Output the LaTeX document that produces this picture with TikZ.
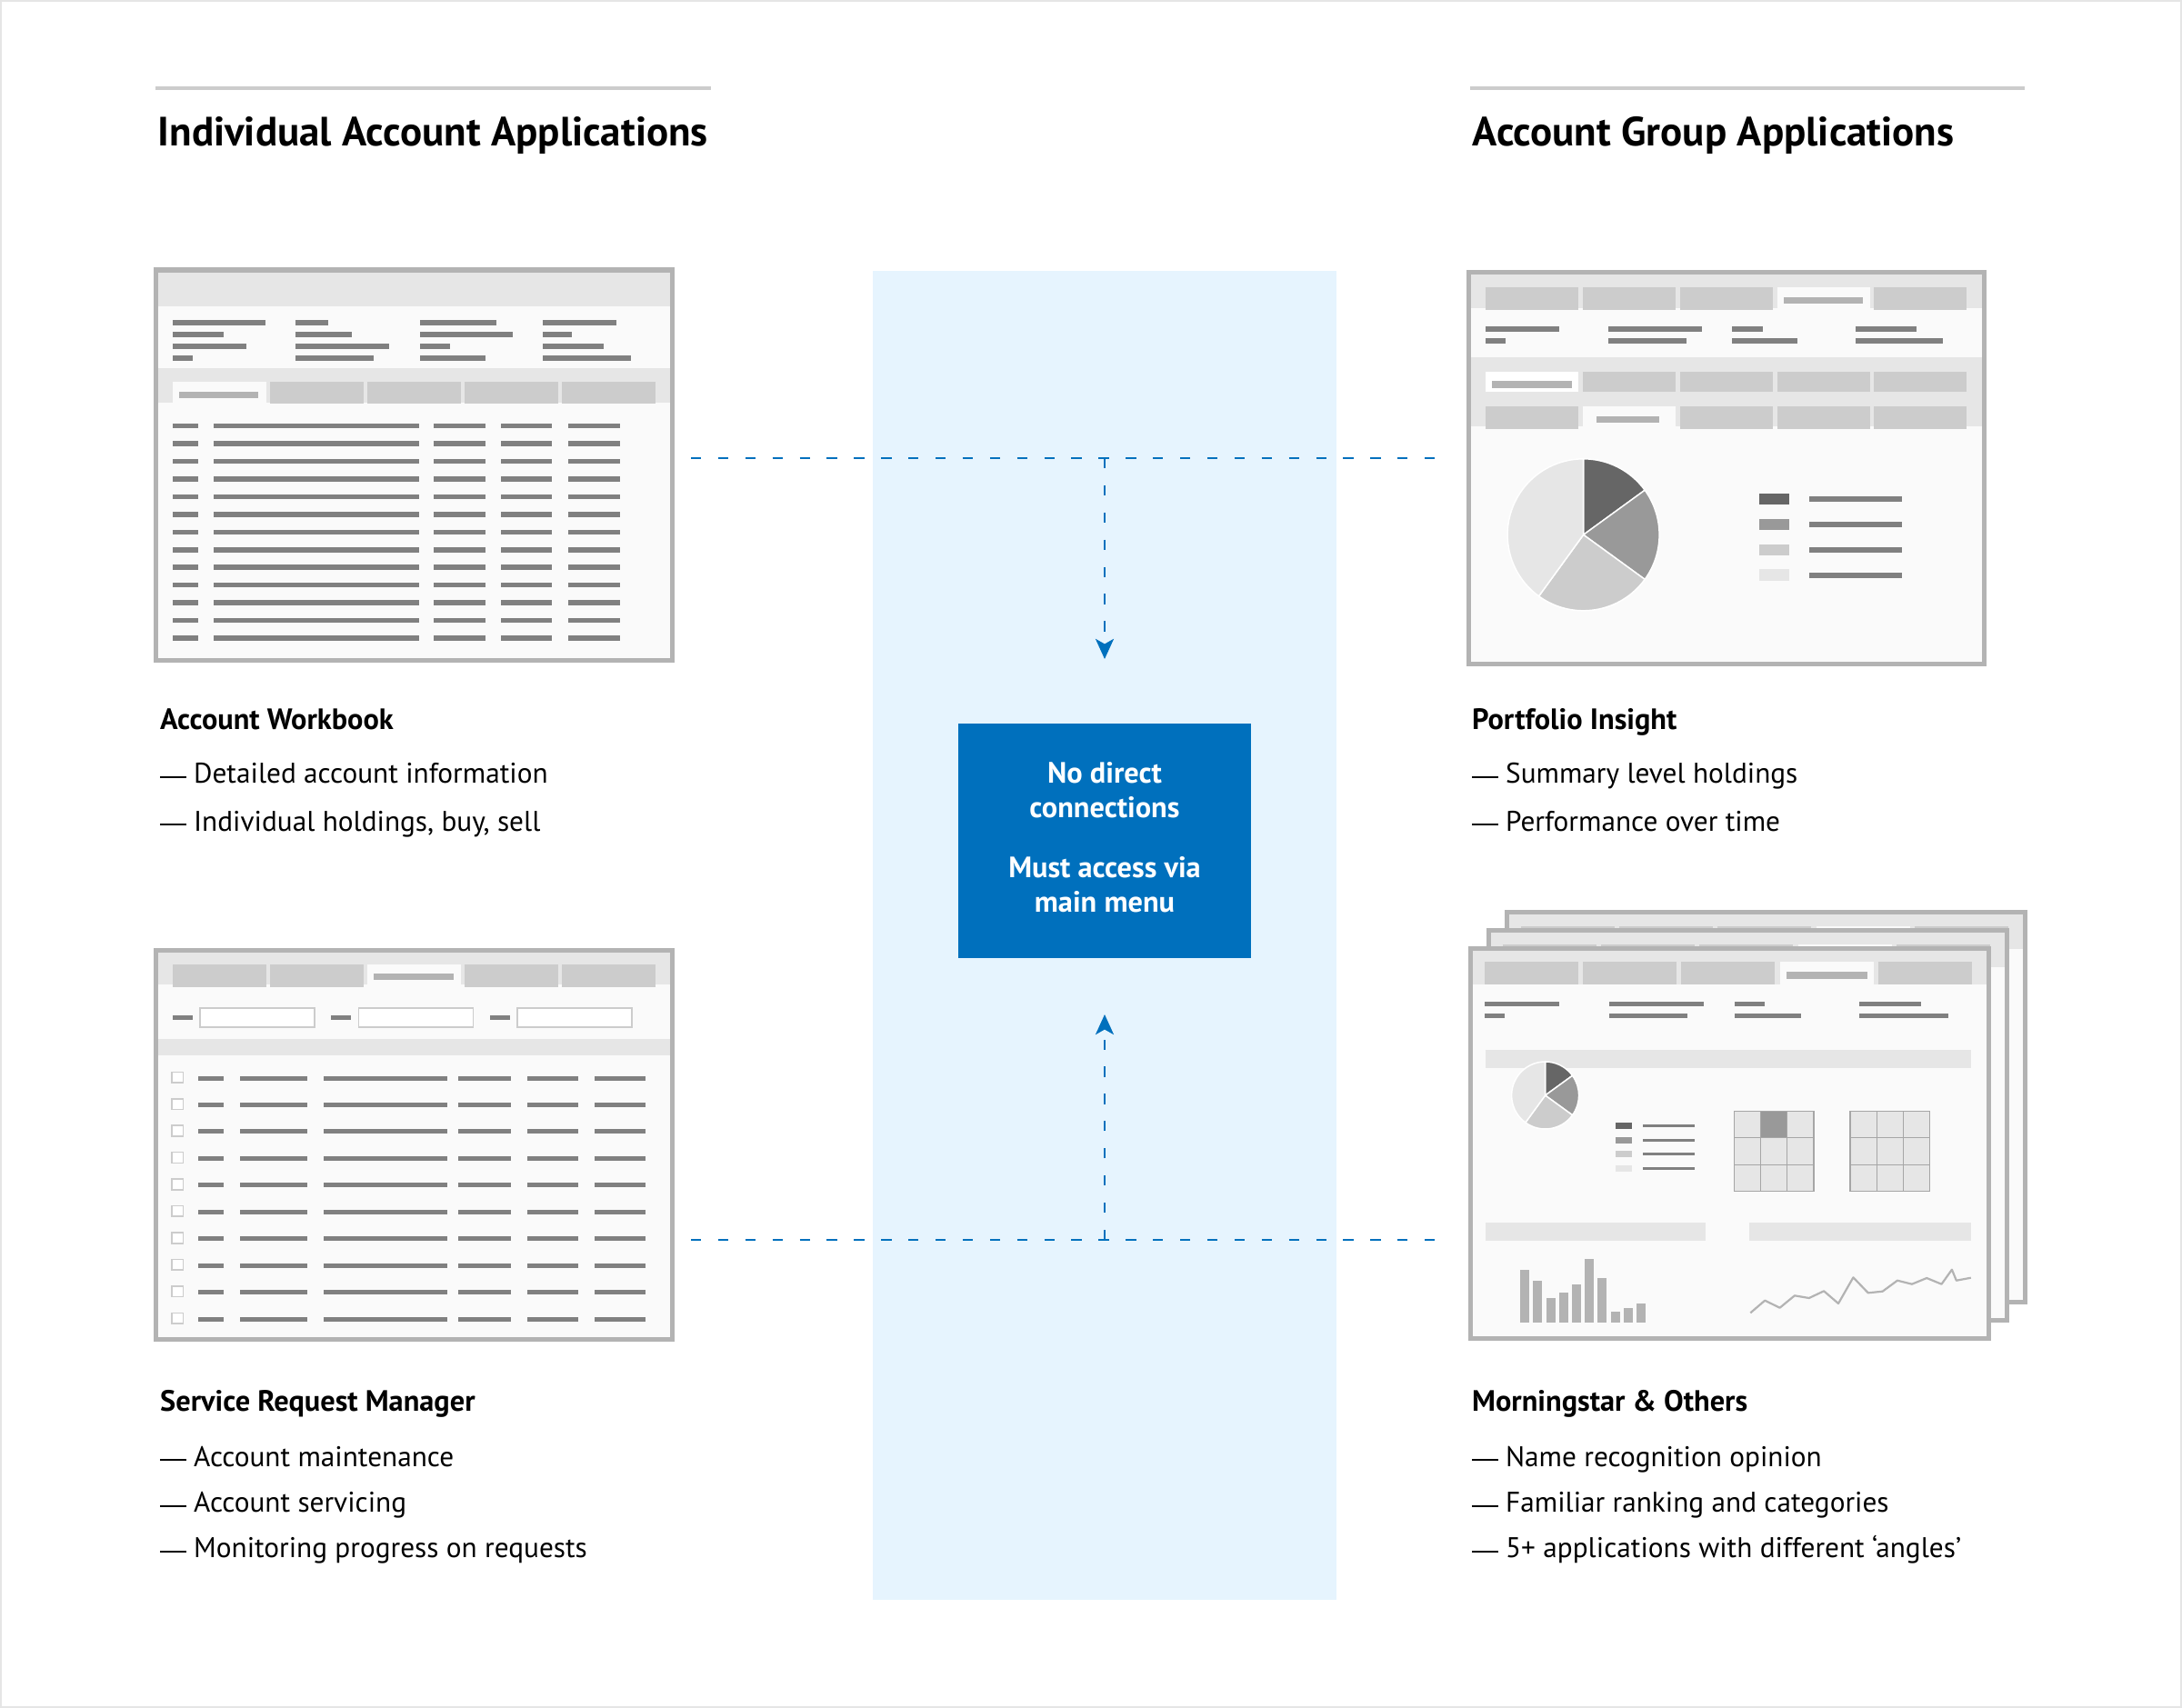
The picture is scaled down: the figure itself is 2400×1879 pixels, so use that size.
\documentclass[tikz,border=0pt]{standalone}
\usepackage{fontspec}
\setmainfont{PT Sans}
\usetikzlibrary{arrows.meta}
\definecolor{frm}{HTML}{B3B3B3}
\definecolor{bandc}{HTML}{E6E6E6}
\definecolor{tabc}{HTML}{CCCCCC}
\definecolor{txtl}{HTML}{808080}
\definecolor{bodyc}{HTML}{FAFAFA}
\definecolor{colbg}{HTML}{E6F4FE}
\definecolor{boxc}{HTML}{0070BD}
\definecolor{dashc}{HTML}{0070BD}
\definecolor{pieA}{HTML}{666666}
\definecolor{pieB}{HTML}{999999}
\definecolor{pieC}{HTML}{CCCCCC}
\definecolor{pieD}{HTML}{E6E6E6}
\definecolor{hline}{HTML}{CCCCCC}
\definecolor{gridc}{HTML}{A6A6A6}
\definecolor{pageb}{HTML}{E5E5E5}
\newdimen\pxu \pxu=0.2845276pt
\newcommand\emd{\rule[1.7pt]{8.1pt}{0.55pt}\hspace{2.4pt}}
\newcommand\gln[5][txtl]{\fill[#1] ({#2},{#3-(#5)/2}) rectangle ({#2+#4},{#3+(#5)/2});}
\newcommand\piechart[3]{%
  \filldraw[fill=pieA,draw=white,line width=1.5\pxu] (#1,#2) -- ++(-90:#3) arc[start angle=-90,end angle=-36,radius=#3] -- cycle;
  \filldraw[fill=pieB,draw=white,line width=1.5\pxu] (#1,#2) -- ++(-36:#3) arc[start angle=-36,end angle=36,radius=#3] -- cycle;
  \filldraw[fill=pieC,draw=white,line width=1.5\pxu] (#1,#2) -- ++(36:#3) arc[start angle=36,end angle=126,radius=#3] -- cycle;
  \filldraw[fill=pieD,draw=white,line width=1.5\pxu] (#1,#2) -- ++(126:#3) arc[start angle=126,end angle=270,radius=#3] -- cycle;
}
\newcommand\gridbox[5]{% x y w h highlight(0/1)
  \fill[bandc] (#1,#2) rectangle ++(#3,#4);
  \ifnum#5=1 \fill[pieB] ({#1+(#3)/3},#2) rectangle ++({(#3)/3},{(#4)/3});\fi
  \foreach \k in {0,1,2,3}{%
    \draw[gridc,line width=1.4\pxu] ({#1+\k*(#3)/3},#2) -- ++(0,#4);
    \draw[gridc,line width=1.4\pxu] (#1,{#2+\k*(#4)/3}) -- ++(#3,0);}
}
\newcommand\msscr{%
  \fill[bodyc] (0,0) rectangle (570.4,429);
  \fill[bandc] (0,0) rectangle (570.4,39.8);
  \foreach \x in {16,124.2,232.4,448.8} \fill[tabc] (\x,14.8) rectangle ++(103,25);
  \fill[bodyc] (340.6,14.8) rectangle ++(103,25.5);
  \gln[frm]{348.3}{29.5}{88.2}{7.4}
  \foreach \x/\y/\l in {16/61.2/82, 16/74.2/22.4, 152.8/61.2/104, 152.8/74.2/86.5, 290.8/61.2/33.5, 290.8/74.2/72.7, 427.9/61.2/67.8, 427.9/74.2/97.6} {\gln{\x}{\y}{\l}{5.3}}
  \fill[bandc] (16.9,111.5) rectangle (551.2,131.5);
  \piechart{82.6}{161.5}{37}
  \foreach \y/\c in {195.2/pieA, 210.8/pieB, 226.2/pieC, 241.8/pieD} {\gln[\c]{159.7}{\y}{18.4}{6.7}\gln{190}{\y}{57}{3.2}}
  \gridbox{290.3}{178.8}{87.7}{88.4}{1}
  \gridbox{418}{178.8}{87.7}{88.4}{0}
  \fill[bandc] (16.9,301.8) rectangle (259,321.5);
  \fill[bandc] (307,301.8) rectangle (551.2,321.5);
  \foreach \i/\t in {0/353.2, 1/365.2, 2/384.8, 3/378.8, 4/369.2, 5/341.8, 6/362.2, 7/399.5, 8/395.5, 9/390.5} \fill[frm] ({55.2+14.2*\i},\t) rectangle ++(10,{411.5-\t});
  \draw[frm,line width=2.2\pxu,line join=round] (308.3,400.8) -- (324.2,387.2) -- (340.6,395.2) -- (356.9,381.8) -- (372.8,384.5) -- (389.1,376.8) -- (405,390.5) -- (421.4,361.8) -- (437.7,378.8) -- (453.6,377.2) -- (469.9,365.2) -- (485.9,369.2) -- (502.2,362.5) -- (518.5,369.2) -- (529.9,353.2) -- (534.8,365.2) -- (550.8,362.2);
  \draw[frm,line width=5\pxu] (0,0) rectangle (570.4,429);
}
\tikzset{
  ttl/.style={anchor=base west,inner sep=0pt,font=\fontsize{12.8}{15}\selectfont\bfseries},
  hdg/.style={anchor=base west,inner sep=0pt,font=\fontsize{9.2}{11}\selectfont\bfseries},
  itm/.style={anchor=base west,inner sep=0pt,font=\fontsize{8.9}{11}\selectfont},
  dsh/.style={draw=dashc,line width=0.71pt,dash pattern=on 3.2pt off 5.3pt},
  tip/.style={-{Stealth[length=6.3pt,width=5.7pt,inset=1.6pt]}}
}
\begin{document}
\begin{tikzpicture}[x=0.01cm,y=-0.01cm]
\useasboundingbox (0,0) rectangle (2400,1879);
\fill[white] (0,0) rectangle (2400,1879);
\draw[pageb,line width=2\pxu] (1,1) rectangle (2399,1878);
% central column
\fill[colbg] (960,298) rectangle (1470,1760);
% section titles
\fill[hline] (171,95) rectangle (782,99);
\fill[hline] (1617,95) rectangle (2227,99);
\node[ttl] (t1) at (173,161) {Individual Account Applications};
\node[ttl] (t2) at (1619,161) {Account Group Applications};
% ---------- Screen 1: Account Workbook
\begin{scope}[shift={(171,297)}]
  \fill[bodyc] (0,0) rectangle (568,429);
  \fill[bandc] (0,0) rectangle (568,40);
  \foreach \x/\y/\l in {18.5/58/102.6, 18.5/71/56.3, 18.5/84/81.5, 18.5/97/22.6, 154/58/35.6, 154/71/62, 154/84/102.6, 154/97/85.7, 290.6/58/84.6, 290.6/71/102.6, 290.6/84/33.3, 290.6/97/72, 426.4/58/81, 426.4/71/32, 426.4/84/67, 426.4/97/96.8} {\gln{\x}{\y}{\l}{5.3}}
  \fill[bandc] (0,108) rectangle (568,146);
  \foreach \x in {126.4,233,340,447} \fill[tabc] (\x,123) rectangle ++(103,24.3);
  \fill[bodyc] (18.5,123) rectangle ++(103,24);
  \gln[frm]{26}{137.2}{87.4}{7}
  \foreach \i in {0,...,12}{%
    \pgfmathsetmacro\yy{171.7+19.44*\i}
    \foreach \x/\l in {18.5/28.3, 64.4/225.4, 305.5/57, 379.7/56.7, 453.6/57} {\gln{\x}{\yy}{\l}{5.5}}
  }
  \draw[frm,line width=5\pxu] (0,0) rectangle (568,429);
\end{scope}
% ---------- Screen 2: Portfolio Insight
\begin{scope}[shift={(1615,299.3)}]
  \fill[bodyc] (0,0) rectangle (567,430.7);
  \fill[bandc] (0,0) rectangle (567,40);
  \foreach \x in {18.7,126.2,233,446.2} \fill[tabc] (\x,16.7) rectangle ++(102.2,25);
  \fill[bodyc] (339.8,16.7) rectangle ++(102.2,25);
  \gln[frm]{347}{31.2}{87.3}{7.6}
  \foreach \x/\y/\l in {18.7/62.7/81.5, 18.7/75.7/22.2, 154.2/62.7/103, 154.2/75.7/85.3, 290/62.7/33.7, 290/75.7/72, 425.5/62.7/67.7, 425.5/75.7/96.4} {\gln{\x}{\y}{\l}{5.3}}
  \fill[bandc] (0,94) rectangle (567,169.7);
  \foreach \x in {126.2,233,339.8,446.2} \fill[tabc] (\x,109.7) rectangle ++(102.2,21.7);
  \fill[white] (18.7,109.7) rectangle ++(102.2,21.7);
  \gln[frm]{26}{124}{87.6}{8}
  \foreach \x in {18.7,233,339.8,446.2} \fill[tabc] (\x,147.4) rectangle ++(102.2,25);
  \fill[bodyc] (126.2,147.4) rectangle ++(102.2,25);
  \gln[frm]{141}{162.2}{69.4}{7.6}
  \piechart{126.6}{289}{83.5}
  \foreach \y/\c in {249.7/pieA, 277.7/pieB, 305.7/pieC, 333.4/pieD} {\gln[\c]{319.5}{\y}{33.7}{12.6}\gln{374.6}{\y}{102.6}{6}}
  \draw[frm,line width=5\pxu] (0,0) rectangle (567,430.7);
\end{scope}
% ---------- Screen 3: Service Request Manager
\begin{scope}[shift={(171.3,1045.3)}]
  \fill[bodyc] (0,0) rectangle (567.7,428.4);
  \fill[bandc] (0,0) rectangle (567.7,37.4);
  \foreach \x in {18.2,126.1,339.7,446.7} \fill[tabc] (\x,15.7) rectangle ++(103,25);
  \fill[bodyc] (232.7,15.7) rectangle ++(103,25);
  \gln[frm]{240.1}{29.4}{87.3}{7.3}
  \foreach \x in {18.2,192.7,367.2} {\gln{\x}{74.2}{22.3}{5.6}}
  \foreach \x in {48.7,223.3,397.7} \filldraw[fill=white,draw=tabc,line width=1.6\pxu] (\x,63.7) rectangle ++(126,21);
  \fill[bandc] (0,98) rectangle (567.7,115.7);
  \foreach \i in {0,...,9}{%
    \pgfmathsetmacro\yy{140.7+29.45*\i}
    \filldraw[fill=white,draw=tabc,line width=1.6\pxu] (17.5,\yy-6.7) rectangle ++(12.5,11.7);
    \foreach \x/\l in {46.9/27.9, 92.8/73.9, 184.7/136.2, 332.7/58.2, 408.9/55.8, 482.7/56} {\gln{\x}{\yy}{\l}{5}}
  }
  \draw[frm,line width=5\pxu] (0,0) rectangle (567.7,428.4);
\end{scope}
% ---------- Screen 4: Morningstar stack
\begin{scope}[shift={(1657,1003.8)}]\msscr\end{scope}
\begin{scope}[shift={(1637,1023.7)}]\msscr\end{scope}
\begin{scope}[shift={(1617,1043.5)}]\msscr\end{scope}
% ---------- texts
\node[hdg] (h1) at (175.5,802) {Account Workbook};
\node[itm] (h1a) at (175.5,861.5) {\emd Detailed account information};
\node[itm] (h1b) at (175.5,914) {\emd Individual holdings, buy, sell};
\node[hdg] (h2) at (1618.5,802) {Portfolio Insight};
\node[itm] (h2a) at (1618.5,861.5) {\emd Summary level holdings};
\node[itm] (h2b) at (1618.5,914) {\emd Performance over time};
\node[hdg] (h3) at (175.5,1552) {Service Request Manager};
\node[itm] (h3a) at (175.5,1613) {\emd Account maintenance};
\node[itm] (h3b) at (175.5,1663.5) {\emd Account servicing};
\node[itm] (h3c) at (175.5,1713.5) {\emd Monitoring progress on requests};
\node[hdg] (h4) at (1618.5,1552) {Morningstar \& Others};
\node[itm] (h4a) at (1618.5,1613) {\emd Name recognition opinion};
\node[itm] (h4b) at (1618.5,1663.5) {\emd Familiar ranking and categories};
\node[itm] (h4c) at (1618.5,1713.5) {\emd 5+ applications with different ‘angles’};
% ---------- central box
\node[fill=boxc,minimum width=3.22cm,minimum height=2.58cm,inner sep=0pt] (box) at (1215,925) {};
\node[text=white,align=center,inner sep=0pt,font=\fontsize{9.2}{10.8}\selectfont\bfseries] (boxtxt) at ([yshift=0.035cm]box.center)
      {No direct\\connections\\[8pt]Must access via\\main menu};
% ---------- connectors
\coordinate (tl) at (760,504);
\coordinate (tr) at (1580,504);
\coordinate (tj) at (1215,504);
\coordinate (ta) at (1215,725);
\coordinate (bl) at (760,1364);
\coordinate (br) at (1580,1364);
\coordinate (bj) at (1215,1364);
\coordinate (ba) at (1215,1116);
\draw[dsh] (tl) -- (tr);
\draw[dsh,tip] (tj) -- (ta);
\draw[dsh] (bl) -- (br);
\draw[dsh,tip] (bj) -- (ba);
\end{tikzpicture}
\end{document}
